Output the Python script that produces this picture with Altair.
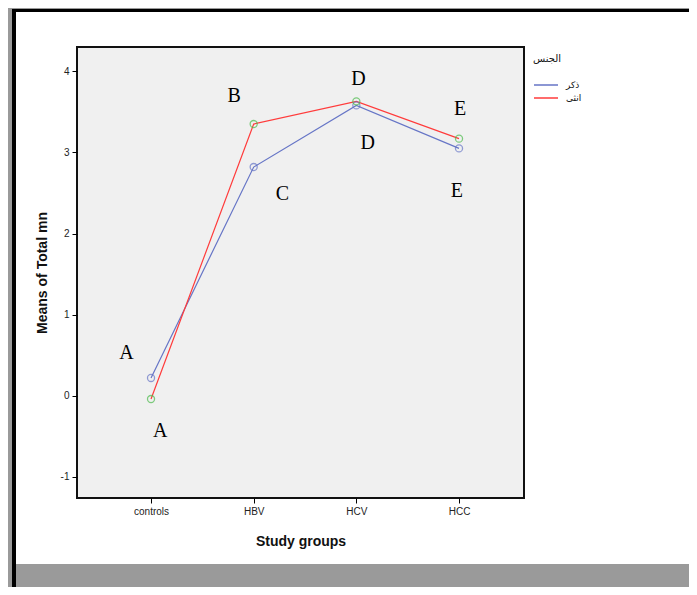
import altair as alt
import pandas as pd

groups = ["controls", "HBV", "HCV", "HCC"]
male_name = "ذكر"
female_name = "انثى"
legend_title = "الجنس"
male_vals = [0.22, 2.82, 3.58, 3.05]
female_vals = [-0.04, 3.35, 3.63, 3.17]

letters = ["A", "A", "B", "C", "D", "D", "E", "E"]
letter_x = [-0.24, 0.09, 0.81, 1.28, 2.02, 2.11, 3.01, 2.98]
letter_y = [0.53, -0.44, 3.69, 2.49, 3.90, 3.12, 3.53, 2.53]

BLUE = "#6675c6"
RED = "#ff3b3b"
GREEN = "#4cbb4c"
GRAY = "#9a9a9a"

rows = []
for i, g in enumerate(groups):
    rows.append({"idx": i, "group": g, "sex": male_name, "mean": male_vals[i]})
    rows.append({"idx": i, "group": g, "sex": female_name, "mean": female_vals[i]})
df = pd.DataFrame(rows)
ann = pd.DataFrame({"x": letter_x, "y": letter_y, "t": letters})

label_expr = "[" + ",".join("'%s'" % g for g in groups) + "][datum.value]"

xs = alt.Scale(domain=[-0.721, 3.633], nice=False, zero=False)
ys = alt.Scale(domain=[-1.26, 4.3], nice=False, zero=False)

x_axis = alt.Axis(values=[0, 1, 2, 3], labelExpr=label_expr, title="Study groups",
                  grid=False, domain=False, tickColor="#000", tickSize=5,
                  labelFont="Liberation Sans", labelFontSize=10, labelColor="#222",
                  titleFont="Liberation Sans", titleFontSize=14, titleFontWeight="bold",
                  titleColor="#111", titlePadding=18, labelPadding=3, zindex=1)
y_axis = alt.Axis(values=[-1, 0, 1, 2, 3, 4], labelExpr="'' + datum.value", title="Means of Total mn",
                  grid=False, domain=False, tickColor="#000", tickSize=5,
                  labelFont="Liberation Sans", labelFontSize=10, labelColor="#222",
                  titleFont="Liberation Sans", titleFontSize=14, titleFontWeight="bold",
                  titleColor="#111", titlePadding=11, labelPadding=3, zindex=1)

base = alt.Chart(df)
lines = base.mark_line(strokeWidth=1.2).encode(
    x=alt.X("idx:Q", scale=xs, axis=x_axis),
    y=alt.Y("mean:Q", scale=ys, axis=y_axis),
    color=alt.Color("sex:N", scale=alt.Scale(domain=[male_name, female_name], range=[BLUE, RED]),
                    legend=alt.Legend(title=legend_title, orient="none", legendX=456, legendY=7,
                                      symbolType="stroke", symbolSize=576, symbolStrokeWidth=1.5,
                                      clipHeight=12,
                                      titleFont="DejaVu Sans", titleFontSize=10, titleFontWeight="normal",
                                      titleColor="#111", labelColor="#111",
                                      labelFont="DejaVu Sans", labelFontSize=9, rowPadding=1,
                                      titlePadding=15, labelOffset=7)),
    detail="sex:N",
)
points = base.mark_point(shape="circle", filled=False, size=50, strokeWidth=1.3).encode(
    x="idx:Q", y="mean:Q",
    stroke=alt.condition(alt.datum.sex == male_name, alt.value(BLUE), alt.value(GREEN)),
)
texts = alt.Chart(ann).mark_text(font="Liberation Serif", fontSize=20, color="#000",
                                 baseline="middle", align="center").encode(
    x="x:Q", y="y:Q", text="t:N")

one = pd.DataFrame({"k": [0]})
def rect(x1, x2, y1, y2, color):
    return alt.Chart(one).mark_rect(color=color).encode(
        x=alt.value(x1), x2=alt.value(x2), y=alt.value(y1), y2=alt.value(y2))

frame = [
    rect(-69, -65, -39, 541, GRAY),
    rect(-69, 612, -39, -38, GRAY),
    rect(-65, -61, -38, 541, "#000"),
    rect(-65, 612, -38, -35, "#000"),
    rect(-61, 612, 517, 541, GRAY),
]

chart = alt.layer(*frame, lines, points, texts).properties(
    width=447, height=451,
    autosize=alt.AutoSizeParams(type="none"),
    padding={"left": 69, "top": 39, "right": 165, "bottom": 89},
).configure_view(fill="#f0f0f0", stroke="#111", strokeWidth=2)

chart.save("out.html", embed_options={"renderer": "svg", "actions": False})
